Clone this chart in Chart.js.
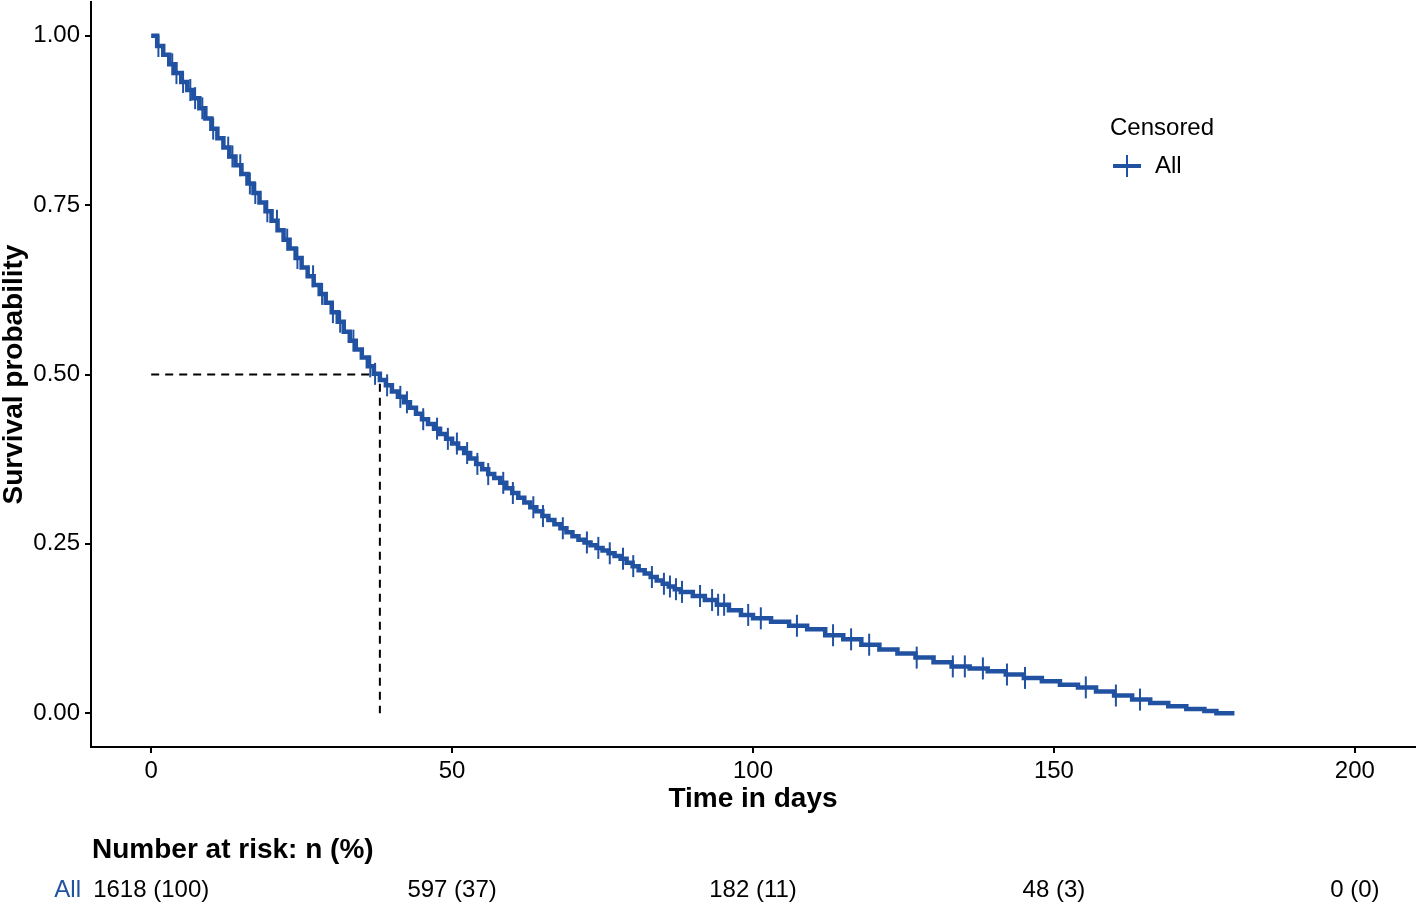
<!DOCTYPE html>
<html>
<head>
<meta charset="utf-8">
<script src="https://cdn.jsdelivr.net/npm/chart.js@4.4.0/dist/chart.umd.min.js"></script>
<style>
  html, body { margin: 0; padding: 0; background: #fff; }
  #wrap { width: 1418px; height: 906px; position: relative; }
</style>
</head>
<body>
<div id="wrap"><canvas id="kmChart"></canvas></div>
<script>
// Kaplan-Meier step points (days, survival)
const stepTimes = [0, 1, 2, 3, 4, 5, 6, 7, 8, 9, 10, 11, 12, 13, 14, 15, 16, 17, 18, 19, 20,
  21, 22, 23, 24, 25, 26, 27, 28, 29, 30, 31, 32, 33, 34, 35, 36, 37, 38, 39, 40,
  41, 42, 43, 44, 45, 46, 47, 48, 49, 50, 51, 52, 53, 54, 55, 56, 57, 58, 59, 60,
  61, 62, 63, 64, 65, 66, 67, 68, 69, 70, 71, 72, 73, 74, 75, 76, 77, 78, 79, 80,
  81, 82, 83, 84, 85, 86, 87, 88, 90, 92, 94, 96, 98, 100, 103, 106, 109, 112, 115,
  118, 121, 124, 127, 130, 133, 136, 139, 142, 145, 148, 151, 154, 157, 160, 163,
  166, 169, 172, 175, 177, 180];
const stepSurv = [1.000, 0.985, 0.972, 0.958, 0.945, 0.932, 0.920, 0.908, 0.893, 0.878, 0.863,
  0.849, 0.835, 0.822, 0.809, 0.796, 0.782, 0.768, 0.754, 0.741, 0.727,
  0.713, 0.699, 0.686, 0.672, 0.658, 0.645, 0.632, 0.619, 0.606, 0.592,
  0.578, 0.563, 0.550, 0.537, 0.525, 0.512, 0.501, 0.492, 0.484, 0.475,
  0.467, 0.459, 0.451, 0.442, 0.434, 0.427, 0.420, 0.412, 0.405, 0.398,
  0.391, 0.384, 0.376, 0.368, 0.360, 0.353, 0.347, 0.340, 0.332, 0.325,
  0.318, 0.311, 0.304, 0.298, 0.291, 0.285, 0.279, 0.273, 0.267, 0.261,
  0.256, 0.252, 0.248, 0.244, 0.240, 0.236, 0.232, 0.228, 0.222, 0.217,
  0.211, 0.206, 0.201, 0.196, 0.191, 0.187, 0.183, 0.179, 0.173, 0.167, 0.160, 0.152,
  0.145, 0.140, 0.135, 0.129, 0.124, 0.115, 0.109,
  0.101, 0.094, 0.088, 0.082, 0.075, 0.069, 0.066, 0.062, 0.057, 0.052, 0.047, 0.042,
  0.038, 0.032, 0.026, 0.020,
  0.015, 0.010, 0.006, 0.003, 0.000, 0.000];

// censoring marks (days)
const censorTimes = [1.2, 3.5, 4.2, 5.3, 6.5, 7.3, 8.5, 10.3, 12.8, 13.5, 14.8, 16.4, 17.3,
  19.3, 20.9, 22.6, 24.3, 26.9, 28.4, 30.2, 31.4, 33.6, 36.4, 37.2, 39.2, 41.4, 42.5,
  45.2, 47.5, 49.3, 50.8, 52.5, 54.2, 56, 58.5, 60.1, 63.5, 65.1, 68.4, 72.4, 74.3,
  76.2, 78.4, 80.1, 83.2, 85.2, 86.2, 87.2, 88.2, 91.2, 93.2, 94.2, 95.2, 99.2, 101.3,
  107.3, 113.3, 116.3, 119.3, 127.2, 133.2, 135.2, 138.2, 142.2, 145.2, 155.3, 160.3, 164.3];

const medianTime = 38;
const xTicks = [0, 50, 100, 150, 200];
const yTicks = [0, 0.25, 0.5, 0.75, 1];
const riskTimes = [0, 50, 100, 150, 200];
const riskLabels = ["1618 (100)", "597 (37)", "182 (11)", "48 (3)", "0 (0)"];
const groupName = "All";

const blue = "#2151a1";
const fontFam = "'Liberation Sans', Arial, Helvetica, sans-serif";

function survAt(t) {
  let s = stepSurv[0];
  for (let i = 0; i < stepTimes.length; i++) {
    if (stepTimes[i] <= t) s = stepSurv[i];
    else break;
  }
  return s;
}

const curveData = stepTimes.map((t, i) => ({ x: t, y: stepSurv[i] }));
const censorData = censorTimes.map((t) => ({ x: t, y: survAt(t) }));
const medianData = [
  { x: 0, y: 0.5 },
  { x: medianTime, y: 0.5 },
  { x: medianTime, y: 0 },
];

// legend + risk table drawn on the canvas
const extras = {
  id: "extras",
  afterDraw(chart) {
    const ctx = chart.ctx;
    const xs = chart.scales.x;
    ctx.save();
    ctx.textBaseline = "middle";

    // legend
    ctx.fillStyle = "#000";
    ctx.font = "24px " + fontFam;
    ctx.textAlign = "left";
    ctx.fillText("Censored", 1110, 128);
    ctx.strokeStyle = blue;
    ctx.lineWidth = 4;
    ctx.beginPath();
    ctx.moveTo(1113, 166);
    ctx.lineTo(1141, 166);
    ctx.stroke();
    ctx.lineWidth = 2;
    ctx.beginPath();
    ctx.moveTo(1127, 155);
    ctx.lineTo(1127, 177);
    ctx.stroke();
    ctx.fillText(groupName, 1155, 166);

    // number at risk
    ctx.font = "bold 28px " + fontFam;
    ctx.fillText("Number at risk: n (%)", 92, 850);
    ctx.font = "24px " + fontFam;
    ctx.textAlign = "right";
    ctx.fillStyle = blue;
    ctx.fillText(groupName, 81, 890);
    ctx.fillStyle = "#000";
    ctx.textAlign = "center";
    riskTimes.forEach((t, i) => {
      ctx.fillText(riskLabels[i], xs.getPixelForValue(t), 890);
    });
    ctx.restore();
  },
};

const ctx = document.getElementById("kmChart").getContext("2d");

new Chart(ctx, {
  type: "line",
  data: {
    datasets: [
      {
        label: "median",
        data: medianData,
        borderColor: "#000",
        borderWidth: 2,
        borderDash: [8, 6],
        pointRadius: 0,
        fill: false,
        order: 3,
      },
      {
        label: groupName,
        data: curveData,
        borderColor: blue,
        borderWidth: 4.5,
        stepped: "before",
        pointRadius: 0,
        fill: false,
        order: 2,
      },
      {
        label: "Censored",
        data: censorData,
        showLine: false,
        pointStyle: "line",
        rotation: 90,
        pointRadius: 11,
        pointBorderWidth: 2,
        pointBorderColor: blue,
        pointBackgroundColor: blue,
        order: 1,
      },
    ],
  },
  options: {
    responsive: true,
    maintainAspectRatio: false,
    devicePixelRatio: 1,
    animation: false,
    layout: {
      autoPadding: false,
      padding: { left: 0, right: 3, top: 2, bottom: 87 },
    },
    plugins: {
      legend: { display: false },
      tooltip: { enabled: false },
    },
    scales: {
      x: {
        type: "linear",
        min: -10,
        max: 210,
        afterBuildTicks: (scale) => {
          scale.ticks = xTicks.map((v) => ({ value: v }));
        },
        afterFit: (scale) => {
          scale.height = 72;
          scale.paddingLeft = 0;
          scale.paddingRight = 0;
        },
        grid: {
          drawOnChartArea: false,
          drawTicks: true,
          tickLength: 6,
          color: "#000",
          lineWidth: 2,
        },
        border: { display: true, color: "#000", width: 2 },
        ticks: {
          color: "#000",
          padding: 4,
          maxRotation: 0,
          font: { size: 24, family: fontFam },
          callback: (v) => String(v),
        },
        title: {
          display: true,
          text: "Time in days",
          color: "#000",
          padding: { top: 0, bottom: 6 },
          font: { size: 28, weight: "bold", family: fontFam, lineHeight: 1 },
        },
      },
      y: {
        type: "linear",
        min: -0.05,
        max: 1.05,
        afterBuildTicks: (scale) => {
          scale.ticks = yTicks.map((v) => ({ value: v }));
        },
        afterFit: (scale) => {
          scale.width = 91;
          scale.paddingTop = 0;
          scale.paddingBottom = 0;
        },
        grid: {
          drawOnChartArea: false,
          drawTicks: true,
          tickLength: 6,
          color: "#000",
          lineWidth: 2,
        },
        border: { display: true, color: "#000", width: 2 },
        ticks: {
          color: "#000",
          padding: 5,
          font: { size: 24, family: fontFam },
          callback: (v) => Number(v).toFixed(2),
        },
        title: {
          display: true,
          text: "Survival probability",
          color: "#000",
          padding: { top: 0, bottom: 0 },
          font: { size: 28, weight: "bold", family: fontFam, lineHeight: 1 },
        },
      },
    },
  },
  plugins: [extras],
});
</script>
</body>
</html>
